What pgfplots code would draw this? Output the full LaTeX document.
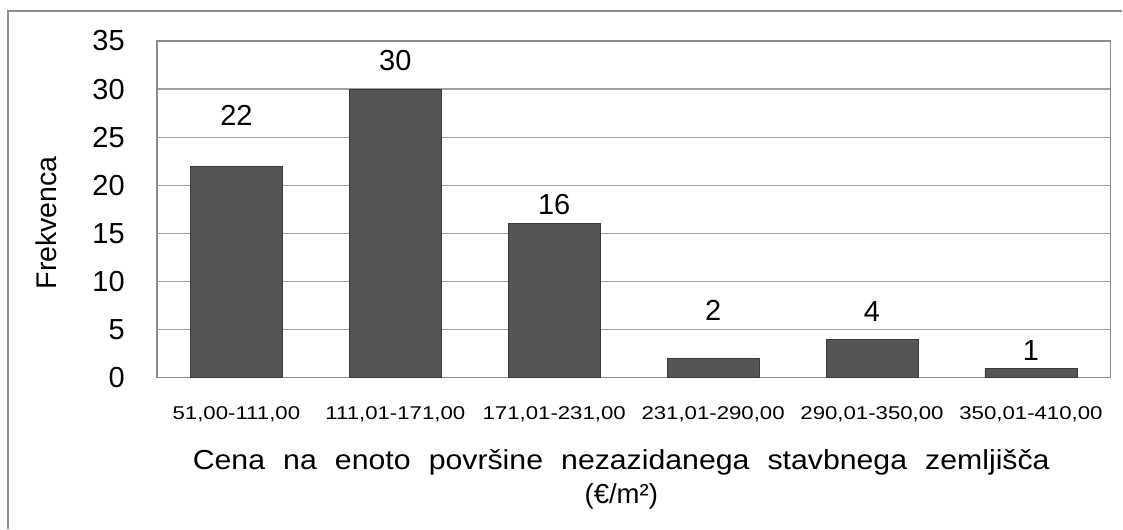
\documentclass[border=0pt]{standalone}
\usepackage{graphicx}
\usepackage{fontspec}
\setmainfont{Liberation Sans}
\usepackage{pgfplots}
\pgfplotsset{compat=1.18}
\definecolor{gridc}{HTML}{A0A0A0}
\definecolor{framec}{HTML}{8C8C8C}
\definecolor{barfill}{HTML}{555555}
\definecolor{baredge}{HTML}{3A3A3A}
\newcommand{\cl}[1]{\scalebox{1.2}[1]{#1}}
\begin{document}
\begin{tikzpicture}
\path (0pt,0pt) rectangle (1123pt,529pt);
\draw[framec, line width=1.2pt] (8pt,0pt) -- (8pt,518pt) -- (1123pt,518pt);
\begin{axis}[
  at={(157pt,151pt)}, anchor=south west,
  scale only axis, width=954pt, height=337pt,
  xmin=-0.5, xmax=5.5, ymin=0, ymax=35,
  xtick={0,1,2,3,4,5},
  xticklabels={{\cl{51,00-111,00}},{\cl{111,01-171,00}},{\cl{171,01-231,00}},{\cl{231,01-290,00}},{\cl{290,01-350,00}},{\cl{350,01-410,00}}},
  ytick={0,5,10,15,20,25,30,35},
  /pgf/number format/assume math mode=true,
  major tick length=0pt,
  tick style={draw=none},
  ymajorgrids, grid style={gridc, line width=1.2pt},
  axis line style={framec, line width=1.2pt},
  yticklabel style={font=\fontsize{29}{32}\selectfont, anchor=east, inner sep=0pt, xshift=-32pt},
  xticklabel style={font=\fontsize{18.5}{22}\selectfont, anchor=north, inner sep=0pt, yshift=-29pt},
  ylabel={Frekvenca},
  ylabel style={at={(axis description cs:-0.1164,0.46)}, anchor=center, font=\fontsize{28.5}{32}\selectfont, inner sep=0pt},
  xlabel={\scalebox{1.1}[1]{\spaceskip=0.6em Cena na enoto površine nezazidanega stavbnega zemljišča}\\[2pt](€/m²)},
  xlabel style={at={(axis description cs:0.487,0)}, anchor=north, yshift=-72pt, align=center, font=\fontsize{27.5}{32}\selectfont, inner sep=0pt},
]
\addplot[ybar, bar width=92pt, draw=baredge, line width=0.8pt, fill=barfill]
  coordinates {(0,22) (1,30) (2,16) (3,2) (4,4) (5,1)};
\addplot[draw=none, mark=none, nodes near coords, point meta=explicit symbolic,
  nodes near coords style={anchor=center, font=\fontsize{29}{32}\selectfont, inner sep=0pt}]
  coordinates {(0,27.3)[22] (1,32.95)[30] (2,17.96)[16] (3,7.0)[2] (4,6.9)[4] (5,2.8)[1]};
\end{axis}
\end{tikzpicture}
\end{document}
